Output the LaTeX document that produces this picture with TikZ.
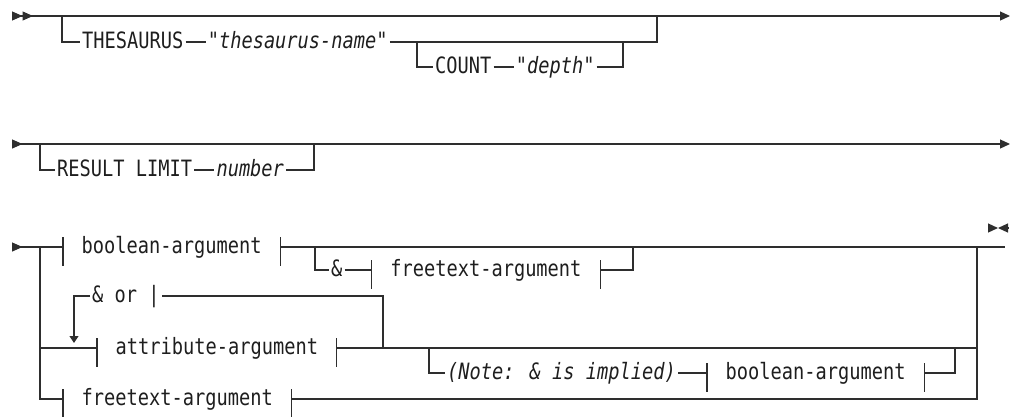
\documentclass[tikz,border=0pt]{standalone}
\usepackage{fontspec}
\usetikzlibrary{arrows.meta, positioning}
\newfontfamily\rrfont[FakeStretch=0.83, Ligatures=TeXOff]{DejaVu Sans Mono}
\newcommand{\rrsize}{\fontsize{22.5}{26}\selectfont}
\definecolor{rrline}{HTML}{2E2E2E}
\definecolor{rrink}{HTML}{1E1E1E}

\begin{document}
\begin{tikzpicture}[x=1pt, y=-1pt,
  rail/.style={draw=rrline, line width=1.2pt},
  >={Triangle[length=10pt, width=9pt]},
  rrtext/.style={font=\rrfont\rrsize, text=rrink, anchor=west,
    inner xsep=2pt, inner ysep=0pt, text height=12.2pt, text depth=0pt},
  rrvar/.style={rrtext, font=\rrfont\rrsize\itshape},
  frag/.style={rrtext, inner xsep=18.5pt, append after command={
    ([yshift=10pt]\tikzlastnode.west) edge[rail] ([yshift=-19pt]\tikzlastnode.west)
    ([yshift=10pt]\tikzlastnode.east) edge[rail] ([yshift=-19pt]\tikzlastnode.east)}},
]
\useasboundingbox (0,0) rectangle (1017,416);

% Row 1: thesaurus clause
\coordinate (r1start) at (12,16);
\coordinate (r1end) at (1010,16);
\draw[rail, {Triangle[reversed, length=10.5pt, width=9pt]Triangle[reversed, length=10.5pt, width=9pt]}->]
  (r1start) -- (r1end);
\coordinate (t1) at (62,16);
\coordinate (t2) at (657,16);
\node[rrtext] (thes) at (80,42) {THESAURUS};
\node[rrvar, right=20pt of thes] (thesname) {"thesaurus-name"};
\draw[rail] (t1) |- (thes.west);
\draw[rail] (thes.east) -- (thesname.west);
\draw[rail] (thesname.east) -| (t2);
\coordinate (c1) at (417,42);
\coordinate (c2) at (623,42);
\node[rrtext] (count) at (433,67) {COUNT};
\node[rrvar, right=20pt of count] (depth) {"depth"};
\draw[rail] (c1) |- (count.west);
\draw[rail] (count.east) -- (depth.west);
\draw[rail] (depth.east) -| (c2);

% Row 2: result limit
\coordinate (r2start) at (12,144);
\coordinate (r2end) at (1010,144);
\draw[rail, {Triangle[reversed, length=10.5pt, width=9pt]}->] (r2start) -- (r2end);
\coordinate (l1) at (40,144);
\coordinate (l2) at (314,144);
\node[rrtext] (result) at (55,170) {RESULT LIMIT};
\node[rrvar, right=20pt of result] (number) {number};
\draw[rail] (l1) |- (result.west);
\draw[rail] (result.east) -- (number.west);
\draw[rail] (number.east) -| (l2);

% Row 3: arguments
\coordinate (r3start) at (12,247);
\coordinate (r3end) at (1005,247);
\node[frag] (bool) at (63,247) {boolean-argument};
\draw[rail, {Triangle[reversed, length=10.5pt, width=9pt]}-] (r3start) -- (bool.west);
\draw[rail] (bool.east) -- (r3end);
\coordinate (a1) at (315,247);
\coordinate (a2) at (633,247);
\node[rrtext] (amp) at (329,270) {\&};
\node[frag, right=27pt of amp] (ftext) {freetext-argument};
\draw[rail] (a1) |- (amp.west);
\draw[rail] (amp.east) -- (ftext.west);
\draw[rail] (ftext.east) -| (a2);

% left rail and alternatives
\coordinate (v1) at (40,247);
\coordinate (v2) at (40,348);
\coordinate (w1) at (977,247);
\coordinate (w2) at (977,348);
\node[frag] (attr) at (97,348) {attribute-argument};
\node[frag] (ftext2) at (63,399) {freetext-argument};
\draw[rail] (v1) |- (ftext2.west);
\draw[rail] (v2) -- (attr.west);
\draw[rail] (attr.east) -- (w2);
\draw[rail] (ftext2.east) -| (w1);

% repeat loop
\coordinate (k1) at (383,348);
\coordinate (k2) at (74,343);
\node[rrtext] (andor) at (90,296) {\& or |};
\draw[rail] (k1) |- (andor.east);
\draw[rail, -{Triangle[length=7pt, width=9pt]}] (andor.west) -| (k2);

% implied note
\coordinate (n1) at (429,348);
\coordinate (n2) at (955,348);
\node[rrvar] (note) at (445,373) {(Note: \& is implied)};
\node[frag, right=29pt of note] (bool2) {boolean-argument};
\draw[rail] (n1) |- (note.west);
\draw[rail] (note.east) -- (bool2.west);
\draw[rail] (bool2.east) -| (n2);

% end marker
\coordinate (emid) at (998,228);
\coordinate (eleft) at (988,228);
\coordinate (eright) at (1008,228);
\draw[rail, ->] (eleft) -- (emid);
\draw[rail, ->] (eright) -- (emid);

\end{tikzpicture}
\end{document}
